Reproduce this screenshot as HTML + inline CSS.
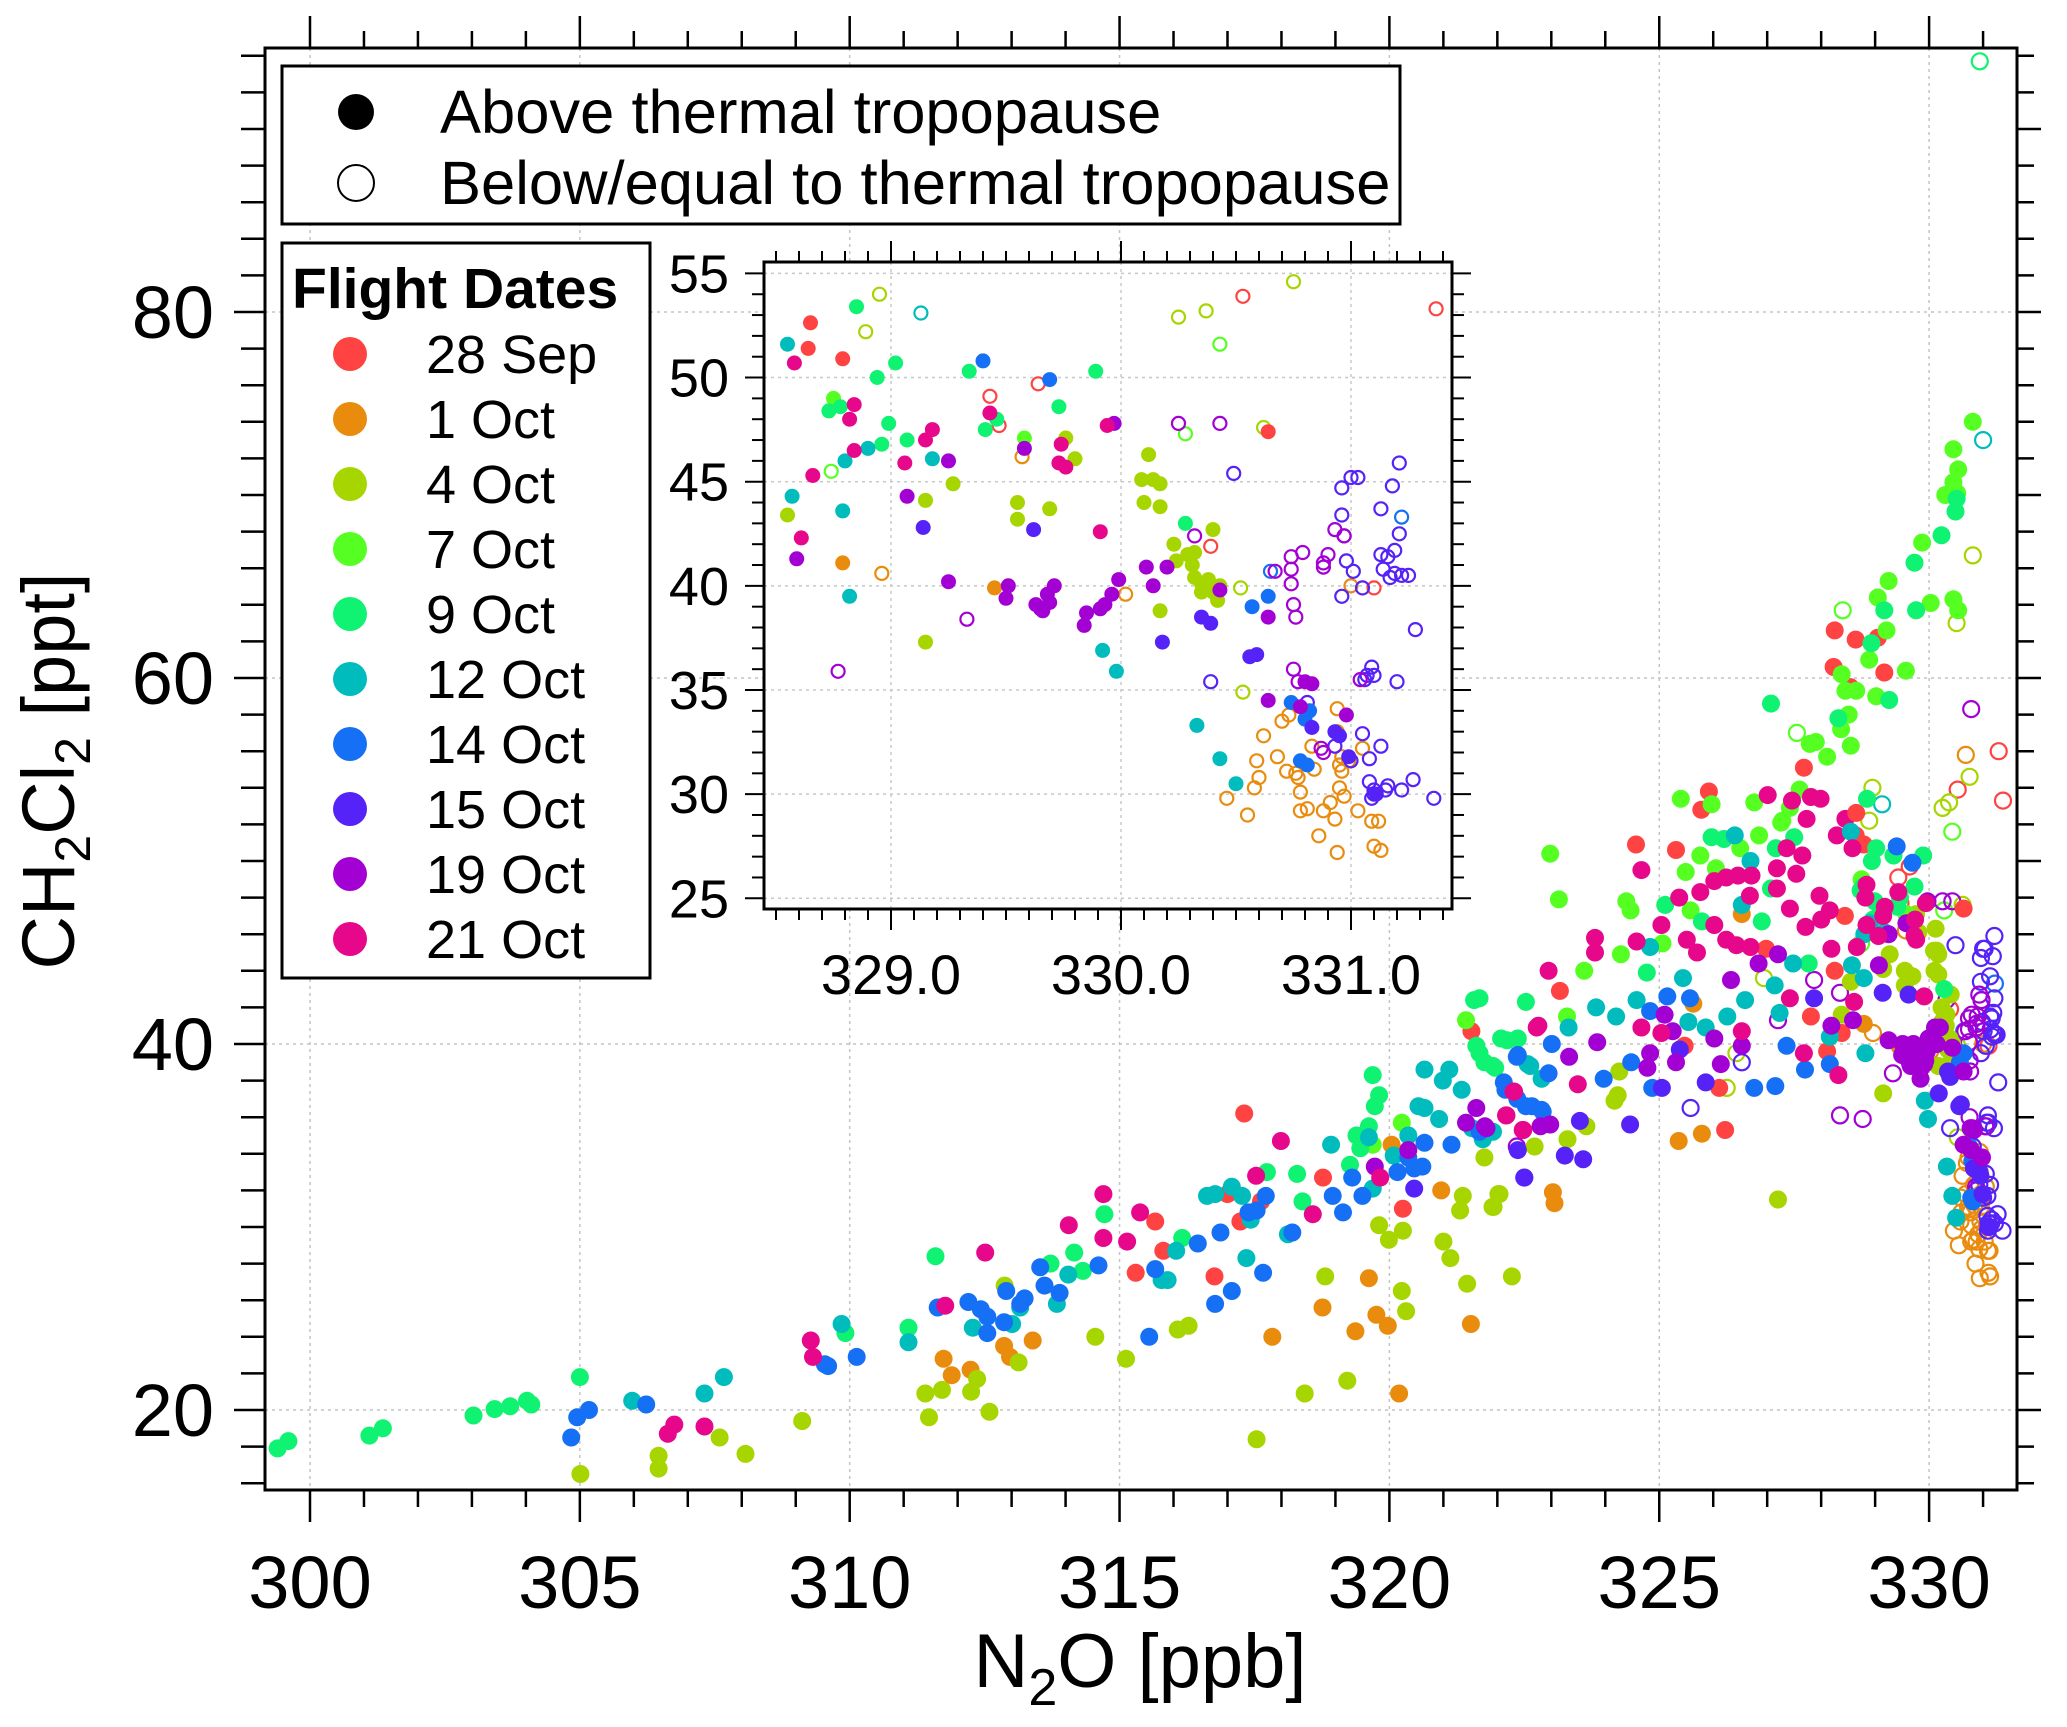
<!DOCTYPE html>
<html><head><meta charset="utf-8"><style>
html,body{margin:0;padding:0;background:#fff;}
svg{display:block;font-family:"Liberation Sans",Arial,sans-serif;}
</style></head><body>
<svg id="chart" width="2067" height="1727" viewBox="0 0 2067 1727" xmlns="http://www.w3.org/2000/svg">
<defs>
<clipPath id="mainClip"><rect x="265" y="48" width="1752" height="1442"/></clipPath>
<clipPath id="insetClip"><rect x="764" y="262" width="688" height="647"/></clipPath>
</defs>
<rect width="2067" height="1727" fill="#fff"/>
<g id="mainGrid"></g>
<g id="mainPts" clip-path="url(#mainClip)"></g>
<g id="mainAxes"></g>
<text x="1140" y="1687" font-size="76" text-anchor="middle">N<tspan font-size="52" dy="18">2</tspan><tspan dy="-18">O [ppb]</tspan></text>
<text transform="translate(74,771) rotate(-90)" font-size="74" text-anchor="middle">CH<tspan font-size="50" dy="16">2</tspan><tspan dy="-16">Cl</tspan><tspan font-size="50" dy="16">2</tspan><tspan dy="-16"> [ppt]</tspan></text>

<g>
<rect x="282" y="66" width="1118" height="158" fill="#fff" stroke="#000" stroke-width="3"/>
<circle cx="356" cy="112" r="18" fill="#000"/>
<text x="440" y="133" font-size="61.5">Above thermal tropopause</text>
<circle cx="356" cy="183" r="18" fill="none" stroke="#000" stroke-width="2"/>
<text x="440" y="204" font-size="61.5">Below/equal to thermal tropopause</text>
</g>
<g id="dateLegend">
<rect x="282" y="243" width="368" height="735" fill="#fff" stroke="#000" stroke-width="3"/>
<text x="292" y="308" font-size="57" font-weight="bold">Flight Dates</text>
</g>

<g>
<rect x="764" y="262" width="688" height="647" fill="#fff"/>
<g id="insetGrid"></g>
<g id="insetPts" clip-path="url(#insetClip)"></g>
<g id="insetAxes"></g>
</g>
</svg>
<script>
// ---------------- data ----------------
const dateLabels = ["28 Sep","1 Oct","4 Oct","7 Oct","9 Oct","12 Oct","14 Oct","15 Oct","19 Oct","21 Oct"];
const dateColors = ["#ff4242","#e98c0e","#a6d500","#55ff22","#10f272","#00bcbc","#1670f5","#5522f7","#a300d3","#e6078b"];
const xMainTicks = [300,305,310,315,320,325,330];
const yMainTicks = [20,40,60,80];
const xInsetTicks = [329.0,330.0,331.0];
const yInsetTicks = [25,30,35,40,45,50,55];

// main-only points (outside the inset window), filled / open, per date
const sep28MainFilled = [[315.30,27.5],[315.66,30.3],[315.81,28.7],[316.76,27.3],[317.31,36.2],[317.24,30.3],[317.62,31.4],[318.77,32.7],[320.25,31.0],[321.52,40.7],[317.0,31.8],[328.25,62.6],[328.64,62.1],[329.05,62.2],[328.23,60.6],[329.17,60.3],[328.54,59.5],[327.68,55.1],[325.92,53.8],[325.78,52.8],[324.57,50.9],[325.31,50.6],[323.16,42.9],[325.47,39.9],[326.22,35.3],[326.11,37.6],[327.81,41.5],[328.11,39.6],[328.25,44.0],[328.44,47.0],[326.98,45.2],[328.38,40.6]];
const sep28MainOpen = [[331.29,56.0]];
const oct1MainFilled = [[311.74,22.8],[311.89,21.9],[312.24,22.2],[312.86,23.5],[312.97,22.9],[313.39,23.8],[317.83,24.0],[318.76,25.6],[319.62,27.2],[319.76,25.2],[319.97,24.6],[319.37,24.3],[320.18,20.9],[320.96,32.0],[321.51,24.7],[320.04,34.5],[325.36,34.7],[325.79,35.1],[323.03,31.9],[323.06,31.3],[326.53,47.1],[325.63,42.2]];
const oct1MainOpen = [[330.68,55.8]];
const oct4MainFilled = [[305.01,16.5],[306.46,17.5],[306.46,16.8],[307.59,18.5],[308.07,17.6],[309.12,19.4],[312.87,26.8],[313.13,22.6],[311.40,20.9],[311.71,21.1],[311.47,19.6],[312.36,21.7],[312.25,21.0],[312.59,19.9],[314.55,24.0],[315.12,22.8],[316.08,24.4],[316.28,24.6],[317.54,18.4],[318.43,20.9],[318.81,27.3],[319.22,21.6],[320.23,26.5],[320.31,25.4],[319.81,30.1],[320.25,29.8],[319.99,29.3],[321.00,29.2],[321.13,28.3],[321.36,31.7],[321.31,30.9],[322.04,31.8],[321.93,31.1],[321.76,33.8],[321.44,26.9],[322.27,27.3],[322.69,34.4],[323.30,34.8],[323.65,35.5],[324.23,37.2],[324.17,36.9],[324.26,38.5],[322.02,31.8],[321.91,31.1],[327.20,31.5],[328.38,41.6]];
const oct4MainOpen = [[330.81,66.7],[330.51,63.0],[326.94,43.6],[326.43,39.5],[326.25,37.6]];
const oct7MainFilled = [[330.81,74.0],[330.45,72.5],[330.54,71.4],[330.45,70.7],[330.30,70.0],[330.52,70.1],[329.87,67.4],[329.25,65.3],[329.05,64.4],[329.21,62.6],[328.89,61.0],[328.38,60.2],[328.45,59.3],[328.65,59.3],[329.02,59.0],[329.57,60.4],[328.51,58.0],[328.37,57.2],[327.79,56.4],[327.90,56.5],[328.11,55.7],[328.55,56.3],[330.03,64.1],[330.45,64.3],[330.54,63.7],[325.40,53.4],[325.97,53.1],[326.76,53.2],[327.60,53.9],[327.42,52.9],[327.28,52.2],[322.98,50.4],[323.14,47.9],[324.39,47.8],[324.47,47.3],[323.61,44.0],[324.29,44.9],[325.06,45.5],[325.49,49.4],[325.76,50.3],[326.85,51.4],[326.50,50.7],[325.58,47.3],[326.05,49.6],[327.26,52.1],[323.29,41.5],[321.42,41.3],[320.23,35.7],[319.69,34.5]];
const oct7MainOpen = [[328.40,63.7],[327.55,57.0]];
const oct9MainFilled = [[299.40,17.9],[299.60,18.3],[301.10,18.6],[301.35,19.0],[303.03,19.7],[303.42,20.05],[303.71,20.2],[304.02,20.5],[304.10,20.3],[305.0,21.8],[309.92,24.2],[311.59,28.4],[311.09,24.5],[314.16,28.6],[314.32,27.6],[313.72,28.0],[314.72,30.7],[316.16,29.4],[317.73,33.0],[318.29,32.9],[318.39,31.4],[319.69,38.3],[319.81,37.2],[319.73,36.6],[319.39,35.0],[319.46,34.3],[319.27,33.4],[319.62,35.5],[321.57,42.4],[322.53,42.3],[321.61,39.9],[321.76,39.0],[322.07,40.3],[322.38,40.3],[321.96,38.7],[321.67,42.5],[321.67,39.5],[321.92,38.8],[322.18,40.2],[324.77,43.9],[325.11,47.6],[325.79,46.7],[325.97,51.3],[326.20,51.2],[326.90,46.7],[327.07,48.5],[327.16,50.7],[327.50,51.3],[327.77,44.4],[330.51,69.8],[330.49,69.1],[330.23,67.8],[329.73,66.3],[329.76,63.7],[329.17,63.7],[328.93,61.9],[329.26,58.8],[327.07,58.6],[328.32,57.8]];
const oct9MainOpen = [[330.94,93.7]];
const oct12MainFilled = [[305.97,20.5],[307.31,20.9],[307.67,21.8],[309.85,24.7],[311.09,23.7],[312.28,24.5],[313.01,24.7],[313.16,25.6],[313.84,25.8],[314.05,27.4],[315.78,27.1],[315.89,27.1],[316.05,28.7],[316.62,31.7],[316.77,31.8],[317.08,32.2],[317.27,31.7],[317.35,28.3],[317.43,30.4],[318.12,29.6],[318.92,34.5],[319.62,34.9],[320.08,33.9],[320.35,35.0],[319.69,32.1],[320.65,38.6],[320.54,36.6],[320.65,36.5],[320.92,35.9],[321.11,38.6],[321.34,37.5],[320.99,38.0],[321.53,35.4],[322.61,38.8],[326.40,51.4],[326.69,50.0],[326.53,47.6],[324.83,45.3],[323.83,42.0],[324.20,41.5],[323.32,40.9],[322.56,38.9],[322.82,38.1],[321.92,35.2],[321.73,34.8],[324.58,42.4],[325.44,43.6],[325.54,41.2],[325.86,40.9],[326.26,41.5],[326.59,42.4],[327.14,43.2],[327.48,44.4],[328.16,40.4],[327.23,41.7]];
const oct12MainOpen = [[331.0,73.0]];
const oct14MainFilled = [[304.84,18.5],[304.95,19.6],[305.17,20.0],[306.23,20.3],[309.60,22.4],[309.54,22.5],[310.13,22.9],[311.63,25.6],[312.20,25.9],[312.43,25.5],[312.55,25.1],[312.55,24.2],[312.86,24.8],[312.90,26.5],[313.16,25.8],[313.24,26.1],[313.53,27.8],[313.61,26.8],[313.89,26.4],[314.61,27.9],[315.55,24.0],[315.66,27.7],[316.45,29.1],[316.87,29.7],[316.77,25.8],[317.08,26.5],[317.39,30.8],[317.54,30.9],[317.71,31.7],[317.66,27.5],[318.20,29.7],[318.95,31.7],[319.14,30.8],[319.31,32.7],[319.50,31.7],[320.15,33.0],[320.46,33.2],[320.61,33.3],[320.35,33.8],[320.65,34.6],[321.15,34.5],[322.38,39.4],[322.15,37.5],[322.53,36.6],[322.84,36.3],[323.01,40.0],[322.36,39.3],[322.95,38.4],[322.12,37.9],[322.64,36.6],[322.82,36.4],[322.37,37.0],[321.67,35.2],[323.97,38.1],[324.48,39.0],[324.87,37.6],[325.15,42.6],[324.83,41.8],[325.57,42.5],[327.36,39.9],[327.70,38.6],[326.76,37.6],[327.15,37.7],[328.16,38.9]];
const oct14MainOpen = [];
const oct15MainFilled = [[320.46,32.1],[322.50,32.7],[322.38,34.2],[323.53,35.8],[324.46,35.6],[323.59,33.7],[322.50,32.7],[323.25,33.9],[325.05,37.6],[325.38,39.7],[325.86,37.9],[327.87,42.5]];
const oct15MainOpen = [[325.58,36.5],[326.53,39.0]];
const oct19MainFilled = [[320.35,34.2],[319.73,33.3],[321.42,35.7],[321.61,36.5],[321.77,35.5],[322.80,35.5],[321.80,35.4],[322.98,35.6],[323.33,39.3],[323.85,40.1],[324.78,38.7],[324.83,39.5],[325.10,41.6],[325.25,40.7],[325.31,39.0],[326.02,40.3],[326.14,38.9],[326.33,43.5],[326.84,44.4],[327.20,44.9],[326.53,39.9],[328.19,41.0]];
const oct19MainOpen = [[330.78,58.3],[327.87,43.5],[328.35,42.8],[327.20,41.3],[328.35,36.1],[322.36,34.4]];
const oct21MainFilled = [[306.63,18.7],[306.75,19.2],[307.31,19.1],[309.28,23.8],[309.32,22.9],[311.77,25.7],[312.51,28.6],[314.06,30.1],[314.70,31.8],[314.70,29.4],[315.14,29.2],[315.38,30.8],[317.53,32.8],[317.99,34.7],[318.58,30.7],[319.83,32.7],[322.30,37.4],[322.16,36.1],[322.48,35.3],[322.76,41.0],[327.01,53.6],[327.46,53.3],[327.81,53.5],[327.99,53.4],[327.73,52.3],[328.45,52.3],[324.67,49.5],[323.81,45.8],[323.81,45.0],[324.58,45.6],[325.04,46.5],[325.37,48.0],[322.95,44.0],[322.73,40.9],[323.49,37.8],[322.31,37.4],[322.17,36.1],[322.47,35.3],[324.67,40.9],[325.04,40.6],[325.76,48.3],[326.02,48.9],[326.24,49.1],[326.46,49.2],[326.71,49.2],[326.68,48.1],[325.51,45.7],[325.70,45.0],[326.02,46.5],[326.24,45.7],[326.43,45.4],[326.69,45.3],[327.18,49.6],[327.18,48.5],[327.36,50.7],[327.65,50.3],[327.54,49.3],[327.97,48.1],[327.42,47.4],[327.71,46.4],[328.0,46.8],[328.16,47.3],[328.19,45.2],[328.29,51.4],[327.42,42.5],[327.68,39.5],[328.32,38.3],[326.53,40.7]];
const oct21MainOpen = [];

// inset-window points (also drawn in main plot)
const sep28InsetFilled = [[328.65,52.63],[328.64,51.4],[328.79,50.9],[330.64,47.4]];
const sep28InsetOpen = [[329.43,49.1],[329.64,49.7],[329.47,47.7],[330.53,53.9],[331.37,53.3],[330.39,41.9],[331.10,39.9]];
const oct1InsetFilled = [[328.79,41.1],[329.45,39.9]];
const oct1InsetOpen = [[328.96,40.6],[329.57,46.2],[330.02,39.6],[331.0,40.0],[330.94,34.1],[330.70,33.5],[330.73,33.8],[330.62,32.8],[330.59,31.6],[330.68,31.8],[330.60,30.8],[330.58,30.3],[330.46,29.8],[330.55,29.0],[330.72,31.1],[330.76,31.0],[330.77,30.8],[330.78,30.1],[330.83,32.3],[330.84,31.2],[330.78,29.2],[330.81,29.3],[330.86,28.0],[330.88,29.2],[330.91,29.6],[330.93,28.8],[330.94,27.2],[330.94,33.0],[330.95,31.4],[330.96,31.1],[330.97,29.9],[330.99,31.6],[331.03,29.2],[331.05,32.2],[331.09,28.7],[331.12,28.7],[331.10,27.5],[331.13,27.3],[330.96,31.8],[330.95,30.3]];
const oct4InsetFilled = [[328.55,43.4],[329.27,44.9],[329.15,44.1],[329.15,37.3],[329.55,44.0],[329.55,43.2],[329.69,43.7],[329.76,47.1],[329.80,46.1],[330.12,46.3],[330.09,45.1],[330.14,45.1],[330.17,44.9],[330.10,44.0],[330.17,43.8],[330.17,38.8],[330.23,42.0],[330.24,41.2],[330.29,41.5],[330.32,41.6],[330.31,41.0],[330.32,40.4],[330.35,40.1],[330.38,40.3],[330.35,39.7],[330.40,39.7],[330.42,39.3],[330.40,42.7],[330.43,40.0]];
const oct4InsetOpen = [[328.95,54.0],[328.89,52.2],[330.25,52.9],[330.37,53.2],[330.75,54.6],[330.62,47.6],[330.52,39.9],[330.53,34.9]];
const oct7InsetFilled = [[328.75,49.0],[329.58,47.1]];
const oct7InsetOpen = [[330.28,47.3],[330.43,51.6],[328.74,45.5]];
const oct9InsetFilled = [[328.85,53.4],[328.94,50.0],[329.02,50.7],[328.73,48.4],[328.78,48.6],[328.99,47.8],[328.96,46.8],[329.07,47.0],[329.34,50.3],[329.41,47.5],[329.46,48.0],[329.73,48.6],[329.89,50.3],[330.28,43.0]];
const oct9InsetOpen = [];
const oct12InsetFilled = [[328.55,51.6],[328.57,44.3],[328.80,46.0],[328.90,46.6],[329.18,46.1],[328.79,43.6],[328.82,39.5],[329.92,36.9],[329.98,35.9],[330.33,33.3],[330.43,31.7],[330.50,30.5]];
const oct12InsetOpen = [[329.13,53.1]];
const oct14InsetFilled = [[329.40,50.8],[329.69,49.9],[330.57,39.0],[330.64,39.5],[330.74,34.4],[330.82,34.0],[330.80,33.6],[330.78,31.6],[330.81,31.4]];
const oct14InsetOpen = [[330.65,40.7],[331.22,43.3]];
const oct15InsetFilled = [[329.14,42.8],[329.62,42.7],[330.35,38.5],[330.39,38.2],[330.18,37.3],[330.56,36.6],[330.59,36.7],[330.83,33.2],[330.93,33.0],[330.95,32.8],[330.99,31.8],[331.11,30.0]];
const oct15InsetOpen = [[330.49,45.4],[330.96,44.7],[331.0,45.2],[331.03,45.2],[331.21,45.9],[331.18,44.8],[330.96,43.4],[331.13,43.7],[331.21,42.5],[330.97,42.4],[330.98,41.2],[331.13,41.5],[331.19,41.7],[331.16,41.4],[331.14,40.8],[331.19,40.6],[331.22,40.5],[331.25,40.5],[331.17,40.4],[331.01,40.7],[331.05,39.9],[330.96,39.5],[331.28,37.9],[330.39,35.4],[331.09,36.1],[331.07,35.7],[331.10,35.7],[331.06,35.5],[331.2,35.4],[330.81,34.4],[330.93,32.3],[331.05,32.9],[331.13,32.3],[331.08,31.7],[331.08,30.6],[331.09,29.8],[331.10,30.0],[331.15,30.2],[331.16,30.4],[331.22,30.2],[331.27,30.7],[331.36,29.8],[331.0,31.6],[331.1,30.2]];
const oct19InsetFilled = [[328.59,41.3],[329.07,44.3],[329.25,46.0],[329.58,46.6],[329.25,40.2],[329.51,40.0],[329.50,39.4],[329.63,39.1],[329.65,38.9],[329.66,38.8],[329.68,39.6],[329.69,39.2],[329.71,40.0],[329.85,38.7],[329.84,38.1],[329.91,38.9],[329.93,39.1],[329.96,39.6],[329.99,40.3],[329.97,47.8],[330.11,40.9],[330.14,40.0],[330.20,40.9],[330.43,39.8],[330.64,38.5],[330.64,34.5],[330.78,34.2],[330.98,33.8],[330.80,35.4],[330.83,35.3]];
const oct19InsetOpen = [[328.77,35.9],[329.33,38.4],[330.25,47.8],[330.43,47.8],[330.32,42.4],[330.74,41.4],[330.79,41.6],[330.74,40.8],[330.74,40.1],[330.75,39.1],[330.76,38.5],[330.67,40.7],[330.88,41.1],[330.88,40.9],[330.90,41.5],[330.93,42.7],[330.97,42.4],[330.75,36.0],[330.77,35.4],[331.04,35.5],[330.87,32.2],[330.88,32.0]];
const oct21InsetFilled = [[328.58,50.7],[328.66,45.3],[328.61,42.3],[328.84,48.7],[328.82,48.0],[328.84,46.5],[329.06,45.9],[329.15,47.0],[329.18,47.5],[329.43,48.3],[329.74,46.8],[329.73,45.9],[329.76,45.7],[329.91,42.6],[329.94,47.7]];
const oct21InsetOpen = [];

const mainFilledSets = [sep28MainFilled,oct1MainFilled,oct4MainFilled,oct7MainFilled,oct9MainFilled,oct12MainFilled,oct14MainFilled,oct15MainFilled,oct19MainFilled,oct21MainFilled];
const mainOpenSets = [sep28MainOpen,oct1MainOpen,oct4MainOpen,oct7MainOpen,oct9MainOpen,oct12MainOpen,oct14MainOpen,oct15MainOpen,oct19MainOpen,oct21MainOpen];
const insetFilledSets = [sep28InsetFilled,oct1InsetFilled,oct4InsetFilled,oct7InsetFilled,oct9InsetFilled,oct12InsetFilled,oct14InsetFilled,oct15InsetFilled,oct19InsetFilled,oct21InsetFilled];
const insetOpenSets = [sep28InsetOpen,oct1InsetOpen,oct4InsetOpen,oct7InsetOpen,oct9InsetOpen,oct12InsetOpen,oct14InsetOpen,oct15InsetOpen,oct19InsetOpen,oct21InsetOpen];

// ---------------- scales ----------------
const NS = "http://www.w3.org/2000/svg";
function mx(v){ return 310 + (v-300)*53.97; }
function my(v){ return 1044 - (v-40)*18.3; }
function ix(v){ return 891 + (v-329)*230; }
function iy(v){ return 273.4 + (55-v)*20.83; }
function mk(tag, attrs, parent){
  const e = document.createElementNS(NS, tag);
  for (const k in attrs) e.setAttribute(k, attrs[k]);
  parent.appendChild(e);
  return e;
}
function line(p,x1,y1,x2,y2,w,col,dash){
  const l = mk("line",{x1:x1,y1:y1,x2:x2,y2:y2,stroke:col||"#000","stroke-width":w||2},p);
  if (dash) l.setAttribute("stroke-dasharray", dash);
  return l;
}

// ---------------- main grid ----------------
const mg = document.getElementById("mainGrid");
xMainTicks.forEach(v=>{
  const l = line(mg, mx(v),48, mx(v),1490, 1.5, "#c4c4c4", "3,4");
  
  
});
yMainTicks.forEach(v=>{
  const l = line(mg, 265,my(v), 2017,my(v), 1.5, "#c4c4c4", "3,4");
  
  
});

// ---------------- main points ----------------
const mp = document.getElementById("mainPts");
function drawPts(parent, sets, fx, fy, r, filled, name){
  sets.forEach((arr, si)=>{
    arr.forEach(p=>{
      const c = mk("circle",{cx:fx(p[0]).toFixed(1), cy:fy(p[1]).toFixed(1), r:filled? r : r-1},parent);
      if (filled){ c.setAttribute("fill", dateColors[si]); }
      else { c.setAttribute("fill","none"); c.setAttribute("stroke", dateColors[si]); c.setAttribute("stroke-width", 2.2); }
      
      
    });
  });
}
drawPts(mp, mainOpenSets, mx, my, 9, false, 'main-open-point');
drawPts(mp, insetOpenSets, mx, my, 9, false, 'main-open-point');
drawPts(mp, mainFilledSets, mx, my, 9, true, 'main-filled-point');
drawPts(mp, insetFilledSets, mx, my, 9, true, 'main-filled-point');

// ---------------- main axes ----------------
const ma = document.getElementById("mainAxes");
const frame = mk("rect",{x:265,y:48,width:1752,height:1442,fill:"none",stroke:"#000","stroke-width":3},ma);


for (let v=300; v<=331; v++){
  const major = v%5===0;
  line(ma, mx(v),1490, mx(v),1490+(major?32:17), 2.5);
  line(ma, mx(v),48, mx(v),48-(major?32:17), 2.5);
}
for (let v=16; v<=94; v+=2){
  const majL = v%20===0;
  line(ma, 265,my(v), 265-(majL?31:24), my(v), 2.5);
  const majR = v%10===0;
  line(ma, 2017,my(v), 2017+(majR?24:17), my(v), 2.5);
}
xMainTicks.forEach(v=>{
  const t = mk("text",{x:mx(v), y:1608, "font-size":74, "text-anchor":"middle"},ma);
  t.textContent = v;
  
  
});
yMainTicks.forEach(v=>{
  const t = mk("text",{x:214, y:my(v)+26, "font-size":74, "text-anchor":"end"},ma);
  t.textContent = v;
  
  
});

// ---------------- date legend ----------------
const dl = document.getElementById("dateLegend");
dateLabels.forEach((lab,i)=>{
  const cy = 354 + i*65;
  const c = mk("circle",{cx:350, cy:cy, r:17, fill:dateColors[i]}, dl);
  
  
  const t = mk("text",{x:426, y:cy+19, "font-size":54}, dl);
  t.textContent = lab;
  
  
});

// ---------------- inset ----------------
const ig = document.getElementById("insetGrid");
xInsetTicks.forEach(v=>{
  const l = line(ig, ix(v),262, ix(v),909, 1.5, "#c8c8c8", "3,4");
  
  
});
yInsetTicks.forEach(v=>{
  const l = line(ig, 764,iy(v), 1452,iy(v), 1.5, "#c8c8c8", "3,4");
  
  
});
const ip = document.getElementById("insetPts");
drawPts(ip, insetOpenSets, ix, iy, 7.5, false, 'inset-open-point');
drawPts(ip, insetFilledSets, ix, iy, 7.5, true, 'inset-filled-point');
const ia = document.getElementById("insetAxes");
const iframe = mk("rect",{x:764,y:262,width:688,height:647,fill:"none",stroke:"#000","stroke-width":3},ia);


for (let k=0; k<=29; k++){
  const v = 328.5 + k*0.1;
  const major = Math.abs(v - Math.round(v)) < 1e-6;
  line(ia, ix(v),909, ix(v),909+(major?21:11), 2);
  line(ia, ix(v),262, ix(v),262-(major?21:11), 2);
}
for (let v=25; v<=55; v++){
  const major = v%5===0;
  line(ia, 764,iy(v), 764-(major?19:12), iy(v), 2);
  line(ia, 1452,iy(v), 1452+(major?19:12), iy(v), 2);
}
xInsetTicks.forEach(v=>{
  const t = mk("text",{x:ix(v), y:994, "font-size":56, "text-anchor":"middle"},ia);
  t.textContent = v.toFixed(1);
  
  
});
yInsetTicks.forEach(v=>{
  const t = mk("text",{x:729, y:iy(v)+19, "font-size":54, "text-anchor":"end"},ia);
  t.textContent = v;
  
  
});
</script>
</body></html>
